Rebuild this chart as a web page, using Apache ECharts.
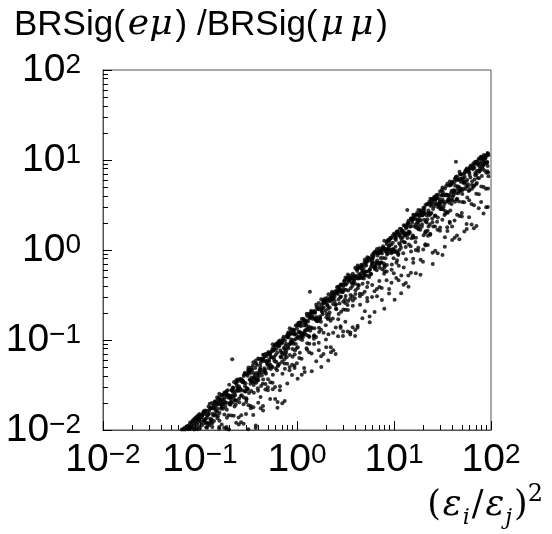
<!DOCTYPE html>
<html><head><meta charset="utf-8">
<script src="https://cdn.jsdelivr.net/npm/echarts@6/dist/echarts.min.js"></script>
<style>html,body{margin:0;padding:0;background:#fff}#c{width:552px;height:534px}</style>
</head><body><div id="c"></div>
<script>
// tick values / labels
const tickValues = [0.01, 0.1, 1, 10, 100];
const tickExponents = ['\u22122', '\u22121', '0', '1', '2'];
const minorTickValues = [0.02,0.03,0.04,0.05,0.06,0.07,0.08,0.09,0.2,0.3,0.4,0.5,0.6,0.7,0.8,0.9,2,3,4,5,6,7,8,9,20,30,40,50,60,70,80,90];

// scatter points [ (eps_i/eps_j)^2 , BRSig(e mu)/BRSig(mu mu) ]
const ptsDecadeM2 = [[.065,.0101],[.067,.0102],[.069,.0105],[.070,.0101],[.072,.0108],[.073,.0104],[.074,.0111],[.076,.0102],[.077,.0113],[.078,.0107],[.079,.0121],[.080,.0103],[.081,.0116],[.082,.0110],[.083,.0124],[.084,.0105],[.085,.0129],[.086,.0118],[.087,.0101],[.088,.0133],[.0884,.0112],[.089,.0124],[.090,.0137],[.091,.0106],[.092,.0129],[.0924,.0118],[.093,.0141],[.094,.0102],[.095,.0134],[.0954,.0123],[.096,.0146],[.097,.0111],[.098,.0139],[.0984,.0128],[.099,.0151],[.0995,.0104]];

const ptsDecadeM1 = [[.100,.0140],[.099,.0130],[.101,.0139],[.102,.0143],
[.106,.0145],[.105,.0147],[.107,.0151],[.1045,.0112],
[.112,.0157],[.111,.0128],[.113,.0165],[.1105,.0119],[.1135,.0133],
[.119,.0164],[.118,.0106],[.120,.0116],[.1175,.0136],[.1205,.0120],[.1195,.0145],
[.126,.0196],[.125,.0113],[.127,.0174],[.1245,.0164],[.1275,.0133],
[.133,.0199],[.132,.0173],[.134,.0108],[.1315,.0130],[.1345,.0152],[.1335,.0119],
[.141,.0194],[.140,.0173],[.142,.0178],[.1395,.0126],[.1425,.0149],[.1415,.0207],
[.150,.0230],[.149,.0196],[.151,.0172],[.1485,.0190],[.1515,.0135],[.1505,.0159],
[.158,.0253],[.157,.0232],[.159,.0154],[.1565,.0193],[.1595,.0221],[.1585,.0127],[.1575,.0108],[.158,.0104],
[.168,.0242],[.167,.0192],[.169,.0246],[.1665,.0186],[.1695,.0219],[.1685,.0178],[.1675,.0115],
[.178,.0251],[.177,.0218],[.179,.0261],[.1765,.0203],[.1795,.0232],[.1785,.0149],[.1775,.0106],
[.188,.0271],[.187,.0245],[.189,.0168],[.1865,.0199],[.1895,.0137],[.1885,.0252],[.1875,.0103],[.188,.0108],
[.200,.0318],[.198,.0244],[.202,.0195],[.197,.0146],[.203,.0201],[.201,.0228],[.199,.0101],
[.211,.0278],[.209,.0206],[.213,.0241],[.208,.0223],[.214,.0275],[.212,.0236],[.210,.0145],
[.224,.0342],[.222,.0237],[.226,.0256],[.221,.0292],[.227,.0182],[.225,.0219],[.223,.0144],
[.237,.0356],[.235,.0328],[.239,.0212],[.234,.0192],[.240,.0309],[.238,.0335],[.236,.0120],
[.251,.0353],[.249,.0286],[.253,.0224],[.248,.0279],[.254,.0204],[.252,.0307],[.250,.0138],[.251,.0115],
[.266,.0366],[.264,.0238],[.268,.0347],[.263,.0281],[.269,.0244],[.267,.0355],[.265,.0122],[.266,.0146],
[.282,.0398],[.279,.0345],[.285,.0336],[.278,.0275],[.286,.0414],[.283,.0229],[.281,.0193],[.282,.0117],
[.299,.0421],[.296,.0267],[.302,.0218],[.295,.0331],[.303,.0292],[.300,.0226],[.298,.0151],[.299,.0205],
[.316,.0496],[.313,.0464],[.319,.0451],[.312,.0283],[.320,.0257],[.317,.0438],[.315,.0102],[.316,.0188],
[.335,.0463],[.332,.0355],[.338,.0272],[.331,.0327],[.339,.0382],[.336,.0492],[.334,.0185],[.335,.0174],
[.355,.0567],[.352,.0434],[.358,.0317],[.351,.0521],[.359,.0259],[.356,.0375],[.354,.0147],[.355,.0179],
[.376,.0590],[.372,.0367],[.380,.0429],[.371,.0490],[.381,.0336],[.377,.0552],[.375,.0105],[.376,.0112],
[.398,.0623],[.394,.0291],[.402,.0389],[.393,.0402],[.403,.0421],[.399,.0356],[.397,.0273],[.398,.0201],
[.422,.0557],[.418,.0516],[.426,.0308],[.417,.0481],[.427,.0619],[.423,.0467],[.421,.0232],[.422,.0175],
[.447,.0687],[.443,.0326],[.451,.0583],[.442,.0436],[.452,.0620],[.448,.0363],[.446,.0185],[.447,.0165],
[.473,.0698],[.468,.0461],[.478,.0423],[.467,.0655],[.479,.0578],[.474,.0435],[.472,.0281],[.473,.0324],
[.501,.0709],[.496,.0530],[.506,.0489],[.495,.0545],[.507,.0736],[.503,.0366],[.500,.0298],[.501,.0276],
[.531,.0718],[.526,.0693],[.536,.0649],[.525,.0519],[.537,.0475],[.533,.0531],[.529,.0221],[.531,.0340],
[.562,.0899],[.556,.0502],[.568,.0825],[.555,.0779],[.569,.0761],[.564,.0410],[.560,.0334],[.562,.0284],
[.596,.0881],[.590,.0777],[.602,.0680],[.589,.0582],[.603,.0484],[.598,.0875],[.594,.0301],[.596,.0221],
[.631,.0873],[.625,.0720],[.637,.0513],[.623,.0461],[.639,.0528],[.633,.0926],[.629,.0177],[.631,.0205],
[.668,.0987],[.661,.0543],[.675,.0762],[.660,.0871],[.676,.0652],[.670,.0926],[.666,.0277],[.668,.0307],
[.708,.0958],[.701,.0575],[.715,.0981],[.699,.0923],[.717,.1039],[.710,.0691],[.705,.0198],[.708,.0421],
[.750,.0993],[.742,.0548],[.758,.0671],[.741,.0610],[.759,.0856],[.752,.0794],[.747,.0210],[.750,.0480],
[.794,.1075],[.786,.1101],[.802,.1166],[.784,.0645],[.804,.0840],[.796,.1130],[.791,.0544],[.794,.0329],
[.841,.1348],[.833,.0890],[.849,.1166],[.831,.1140],[.851,.0920],[.843,.0683],[.838,.0462],[.841,.0500],
[.891,.1180],[.882,.1016],[.900,.0650],[.880,.1308],[.902,.0796],[.893,.0942],[.888,.0409],[.891,.0530],
[.944,.1280],[.935,.1153],[.953,.0766],[.932,.0999],[.955,.1180],[.946,.0689],[.941,.0519],[.944,.0490]];

const ptsMidM1 = [[.103,.0141],[.1035,.0138],[.1025,.0122],[.109,.0128],[.1095,.0162],[.1085,.0158],[.1155,.0121],[.116,.0107],[.115,.0150],[.1225,.0182],[.123,.0152],[.122,.0149],[.1295,.0129],[.130,.0177],[.129,.0121],[.137,.0144],[.1375,.0187],[.1365,.0178],[.1455,.0145],[.146,.0208],[.145,.0163],[.154,.0220],[.1545,.0201],[.1535,.0143],[.163,.0213],[.1635,.0172],[.1625,.0209],[.173,.0172],[.1735,.0193],[.1725,.0197],[.183,.0181],[.1835,.0204],[.1825,.0261],[.194,.0229],[.1945,.0241],[.1935,.0277],[.2055,.0229],[.206,.0191],[.205,.0195],[.2175,.0202],[.218,.0297],[.217,.0270],[.2305,.0243],[.231,.0214],[.230,.0271],[.244,.0287],[.2445,.0363],[.2435,.0272],[.2585,.0289],[.259,.0369],[.258,.0273],[.274,.0357],[.2745,.0340],[.2735,.0350],[.2905,.0270],[.291,.0306],[.290,.0432],[.3075,.0420],[.308,.0401],[.307,.0286],[.3255,.0424],[.326,.0444],[.325,.0364],[.345,.0471],[.3455,.0342],[.3445,.0348],[.3655,.0408],[.366,.0385],[.365,.0340],[.387,.0360],[.3875,.0528],[.3865,.0366],[.410,.0611],[.4105,.0458],[.4095,.0433],[.4345,.0619],[.435,.0592],[.434,.0404],[.460,.0685],[.4605,.0457],[.4595,.0485],[.487,.0664],[.4875,.0574],[.4865,.0584],[.516,.0576],[.5165,.0704],[.5155,.0608],[.5465,.0745],[.547,.0508],[.546,.0644],[.579,.0789],[.5795,.0610],[.5785,.0646],[.6135,.0571],[.614,.0799],[.613,.0913],[.6495,.0846],[.650,.0967],[.649,.0886],[.688,.0938],[.6885,.0725],[.6875,.0640],[.729,.1085],[.7295,.0814],[.7285,.0723],[.772,.0718],[.7725,.0766],[.7715,.0910],[.8175,.0811],[.818,.1064],[.817,.1216],[.866,.0912],[.8665,.1235],[.8655,.0966],[.9175,.1194],[.918,.1308],[.917,.0910],[.972,.1447],[.9725,.0904],[.9715,.1025]];

const ptsDecade0 = [[1.00,.135],[.99,.081],[1.01,.106],[1.02,.083],[.985,.114],[1.005,.147],[1.015,.037],[.995,.055],
[1.06,.156],[1.05,.121],[1.07,.103],[1.045,.124],[1.075,.147],[1.065,.155],[1.055,.063],[1.07,.072],
[1.12,.171],[1.11,.110],[1.13,.100],[1.105,.113],[1.135,.156],[1.125,.119],[1.115,.062],[1.12,.041],
[1.19,.167],[1.18,.145],[1.20,.126],[1.175,.116],[1.205,.119],[1.195,.165],[1.185,.049],[1.20,.044],
[1.26,.196],[1.25,.164],[1.27,.185],[1.245,.144],[1.275,.092],[1.265,.113],[1.255,.081],[1.27,.078],
[1.33,.187],[1.32,.141],[1.34,.108],[1.315,.195],[1.345,.173],[1.325,.111],[1.335,.073],[1.34,.091],
[1.41,.203],[1.40,.138],[1.42,.207],[1.395,.210],[1.425,.135],[1.405,.184],[1.415,.071],[1.42,.045],
[1.50,.202],[1.49,.110],[1.51,.172],[1.485,.208],[1.515,.135],[1.505,.113],[1.495,.103],[1.50,.090],
[1.58,.248],[1.57,.167],[1.59,.232],[1.565,.170],[1.595,.163],[1.585,.180],[1.575,.108],[1.58,.058],
[1.68,.257],[1.67,.164],[1.69,.123],[1.665,.219],[1.695,.233],[1.685,.137],[1.675,.093],[1.68,.077],
[1.78,.284],[1.77,.130],[1.79,.218],[1.765,.159],[1.795,.247],[1.785,.213],[1.775,.066],[1.78,.050],
[1.88,.265],[1.87,.260],[1.89,.276],[1.865,.271],[1.895,.256],[1.885,.229],[1.875,.070],[1.88,.120],
[2.00,.263],[1.98,.146],[2.02,.195],[1.97,.212],[2.03,.277],[2.01,.179],[1.99,.101],[2.00,.083],
[2.11,.323],[2.09,.223],[2.13,.189],[2.08,.171],[2.14,.175],[2.12,.275],[2.10,.059],[2.11,.116],
[2.24,.294],[2.22,.164],[2.26,.274],[2.21,.292],[2.27,.329],[2.25,.310],[2.23,.083],[2.24,.073],
[2.37,.327],[2.35,.251],[2.39,.328],[2.34,.173],[2.40,.333],[2.38,.289],[2.36,.120],[2.37,.077],
[2.51,.338],[2.49,.245],[2.53,.224],[2.48,.348],[2.54,.219],[2.52,.250],[2.50,.070],[2.51,.138],
[2.66,.391],[2.64,.325],[2.68,.281],[2.63,.347],[2.69,.194],[2.67,.390],[2.65,.110],[2.66,.170],
[2.82,.407],[2.80,.298],[2.84,.304],[2.79,.345],[2.85,.206],[2.83,.414],[2.81,.142],[2.82,.136],
[2.99,.394],[2.97,.341],[3.01,.218],[2.96,.346],[3.02,.414],[3.00,.267],[2.98,.111],[2.99,.124],
[3.16,.496],[3.14,.257],[3.18,.412],[3.13,.283],[3.19,.361],[3.17,.309],[3.15,.160],[3.16,.217],
[3.35,.535],[3.33,.492],[3.37,.355],[3.32,.245],[3.38,.464],[3.36,.272],[3.34,.124],[3.35,.215],
[3.55,.480],[3.53,.288],[3.57,.317],[3.52,.492],[3.58,.375],[3.56,.485],[3.54,.115],[3.55,.121],
[3.76,.543],[3.74,.305],[3.78,.490],[3.73,.398],[3.79,.429],[3.77,.274],[3.75,.139],[3.76,.240],
[3.98,.635],[3.96,.421],[4.00,.324],[3.95,.291],[4.01,.356],[3.99,.519],[3.97,.111],[3.98,.129],
[4.22,.674],[4.19,.619],[4.25,.412],[4.18,.585],[4.26,.481],[4.23,.377],[4.21,.137],[4.22,.144],
[4.47,.632],[4.44,.326],[4.50,.510],[4.43,.485],[4.51,.542],[4.48,.496],[4.46,.306],[4.47,.246],
[4.73,.683],[4.70,.578],[4.76,.500],[4.69,.487],[4.77,.591],[4.74,.423],[4.72,.175],[4.73,.324],
[5.01,.786],[4.98,.530],[5.05,.695],[4.96,.736],[5.06,.572],[5.03,.517],[4.99,.343],[5.01,.208],
[5.31,.832],[5.28,.388],[5.35,.519],[5.26,.736],[5.36,.432],[5.33,.780],[5.29,.292],[5.31,.269],
[5.62,.812],[5.59,.594],[5.65,.612],[5.56,.502],[5.66,.779],[5.63,.763],[5.60,.182],[5.62,.157],
[5.96,.808],[5.93,.875],[6.00,.777],[5.90,.680],[6.01,.728],[5.97,.713],[5.94,.301],[5.96,.408],
[6.31,.951],[6.27,.926],[6.35,.616],[6.25,.638],[6.37,.668],[6.33,.651],[6.29,.347],[6.31,.205],
[6.68,1.028],[6.64,.597],[6.72,.926],[6.62,.707],[6.74,.871],[6.70,.762],[6.66,.368],[6.68,.307],
[7.08,1.045],[7.04,.981],[7.12,.633],[7.02,.691],[7.14,.712],[7.10,.923],[7.06,.453],[7.08,.389],
[7.50,.993],[7.46,.979],[7.54,1.040],[7.44,.733],[7.56,.610],[7.52,.917],[7.48,.379],[7.50,.278],
[7.94,1.271],[7.90,1.036],[7.98,.645],[7.88,.710],[8.00,.580],[7.96,.671],[7.92,.544],[7.94,.222],
[8.41,1.166],[8.37,1.235],[8.45,.683],[8.35,1.028],[8.47,.890],[8.43,.959],[8.39,.462],[8.41,.576],
[8.91,1.290],[8.87,1.235],[8.95,1.016],[8.85,1.089],[8.97,1.12],[8.93,1.308],[8.89,.329],[8.91,.369],
[9.44,1.368],[9.40,.921],[9.48,.998],[9.38,1.153],[9.50,.689],[9.46,.95],[9.42,.434],[9.44,.604]];

const ptsMid0 = [[1.03,.154],[1.035,.109],[1.025,.147],[1.09,.121],[1.095,.142],[1.085,.155],[1.155,.114],[1.16,.172],[1.15,.107],[1.225,.129],[1.23,.152],[1.22,.155],[1.295,.129],[1.30,.161],[1.29,.133],[1.37,.127],[1.375,.195],[1.365,.178],[1.455,.181],[1.46,.199],[1.45,.172],[1.54,.201],[1.545,.172],[1.535,.210],[1.63,.223],[1.635,.172],[1.625,.162],[1.73,.172],[1.735,.176],[1.725,.182],[1.83,.227],[1.835,.193],[1.825,.204],[1.94,.277],[1.945,.289],[1.935,.265],[2.055,.293],[2.06,.242],[2.05,.247],[2.175,.229],[2.18,.270],[2.17,.202],[2.305,.286],[2.31,.300],[2.30,.343],[2.44,.303],[2.445,.272],[2.435,.318],[2.585,.385],[2.59,.337],[2.58,.353],[2.74,.374],[2.745,.255],[2.735,.366],[2.905,.414],[2.91,.360],[2.90,.342],[3.075,.362],[3.08,.458],[3.07,.447],[3.255,.424],[3.26,.485],[3.25,.472],[3.45,.449],[3.455,.471],[3.445,.514],[3.655,.431],[3.66,.476],[3.65,.522],[3.87,.504],[3.875,.456],[3.865,.464],[4.10,.509],[4.105,.484],[4.095,.611],[4.345,.404],[4.35,.539],[4.34,.646],[4.60,.656],[4.605,.628],[4.595,.685],[4.87,.544],[4.875,.483],[4.865,.634],[5.16,.576],[5.165,.672],[5.155,.736],[5.465,.779],[5.47,.813],[5.46,.576],[5.79,.646],[5.795,.538],[5.785,.545],[6.135,.913],[6.14,.875],[6.13,.837],[6.495,.967],[6.50,.725],[6.49,.644],[6.88,.725],[6.885,.938],[6.875,.920],[7.29,.814],[7.295,.949],[7.285,.723],[7.72,1.053],[7.725,1.101],[7.715,.814],[8.175,.811],[8.18,1.014],[8.17,.963],[8.66,.912],[8.665,1.020],[8.655,1.288],[9.175,1.365],[9.18,1.33],[9.17,.967],[9.72,1.025],[9.725,1.447],[9.715,1.206]];

const ptsDecade1 = [[10.0,1.52],[9.9,.81],[10.1,.98],[9.85,1.01],[10.2,1.47],[10.05,.95],[9.95,.55],[10.15,.28],
[10.6,1.58],[10.5,1.38],[10.7,.94],[10.45,1.29],[10.75,.77],[10.65,.97],[10.55,.49],[10.6,.72],
[11.2,1.50],[11.1,.91],[11.3,1.19],[11.05,.88],[11.35,1.00],[11.25,1.46],[11.15,.46],[11.2,.67],
[11.9,1.71],[11.8,1.06],[12.0,1.26],[11.75,1.36],[12.05,1.65],[11.95,1.55],[11.85,.33],[11.9,.52],
[12.6,1.88],[12.5,1.54],[12.7,1.58],[12.45,.92],[12.75,1.50],[12.65,1.23],[12.55,.41],[12.6,.64],
[13.3,1.75],[13.2,1.08],[13.4,1.52],[13.15,1.47],[13.45,1.84],[13.35,1.79],[13.25,.43],[13.3,.79],
[14.1,2.12],[14.0,1.49],[14.2,1.96],[13.95,2.01],[14.25,1.15],[14.15,1.61],[14.05,.52],[14.1,.39],
[15.0,2.25],[14.9,2.21],[15.1,1.35],[14.85,1.10],[15.15,2.17],[15.05,1.84],[14.95,.56],[15.0,.96],
[15.8,2.47],[15.7,1.41],[15.9,2.19],[15.65,1.45],[15.95,2.32],[15.85,1.37],[15.75,.80],[15.8,.72],
[16.8,2.21],[16.7,1.92],[16.9,1.78],[16.65,1.23],[16.95,2.46],[16.85,1.37],[16.75,1.00],[16.8,.55],
[17.8,2.78],[17.7,2.03],[17.9,1.74],[17.65,2.18],[17.95,1.88],[17.85,1.70],[17.75,.98],[17.8,1.06],
[18.8,2.59],[18.7,2.60],[18.9,2.76],[18.65,1.68],[18.95,2.14],[18.85,2.71],[18.75,.53],[18.8,.78],
[20.0,2.75],[19.8,2.44],[20.2,1.46],[19.7,2.61],[20.3,2.77],[20.1,2.94],[19.9,.74],[20.0,1.01],
[21.1,3.17],[20.9,1.54],[21.3,2.06],[20.8,2.58],[21.4,1.58],[21.2,1.62],[21.0,1.16],[21.1,1.12],
[22.4,3.21],[22.2,1.64],[22.6,2.74],[22.1,2.19],[22.7,1.82],[22.5,2.56],[22.3,1.14],[22.4,1.44],
[23.7,3.70],[23.5,3.28],[23.9,3.20],[23.4,1.92],[24.0,3.09],[23.8,2.51],[23.6,1.52],[23.7,1.48],
[25.1,3.30],[24.9,2.04],[25.3,2.86],[24.8,2.24],[25.4,1.83],[25.2,3.68],[25.0,.93],[25.1,.70],
[26.6,3.50],[26.4,3.90],[26.8,3.25],[26.3,2.38],[26.9,3.68],[26.7,2.42],[26.5,1.82],[26.6,.98],
[28.2,3.81],[27.9,3.22],[28.5,2.98],[27.8,2.06],[28.6,4.14],[28.3,2.29],[28.1,1.68],[28.2,.92],
[29.9,4.49],[29.6,3.41],[30.2,2.92],[29.5,3.65],[30.3,3.16],[30.0,2.86],[29.8,1.64],[29.9,1.78],
[31.6,4.96],[31.3,4.12],[31.9,4.38],[31.2,4.64],[32.0,2.83],[31.7,3.61],[31.5,2.17],[31.6,.88],
[33.5,4.83],[33.2,3.27],[33.8,4.09],[33.1,2.45],[33.9,2.52],[33.6,2.72],[33.4,1.09],[33.5,1.39],
[35.5,5.45],[35.2,3.46],[35.8,2.59],[35.1,4.05],[35.9,3.55],[35.6,2.65],[35.4,1.79],[35.5,1.63],
[37.6,5.78],[37.2,5.21],[38.0,5.30],[37.1,3.36],[38.1,2.74],[37.7,3.98],[37.5,2.06],[37.6,2.00],
[39.8,5.74],[39.4,4.54],[40.2,3.56],[39.3,3.24],[40.3,3.89],[39.9,5.52],[39.7,1.83],[39.8,1.29],
[42.2,5.70],[41.8,4.46],[42.6,3.43],[41.7,4.60],[42.7,5.16],[42.3,6.19],[42.1,2.13],[42.2,1.37],
[44.7,6.05],[44.3,6.56],[45.1,4.73],[44.2,3.63],[45.2,5.10],[44.8,3.70],[44.6,1.45],[44.7,2.46],
[47.3,7.42],[46.8,3.45],[47.8,6.94],[46.7,5.00],[47.9,4.61],[47.4,4.48],[47.2,1.32],[47.3,2.39],
[50.1,6.91],[49.6,6.11],[50.6,4.18],[49.5,6.24],[50.7,3.41],[50.3,4.57],[50.0,2.57],[50.1,2.36],
[53.1,7.02],[52.6,5.66],[53.6,6.48],[52.5,5.52],[53.7,7.29],[53.3,5.80],[52.9,3.40],[53.1,1.61],
[56.2,8.07],[55.6,7.72],[56.8,5.99],[55.5,5.13],[56.9,3.83],[56.4,7.58],[56.0,1.94],[56.2,1.71],
[59.6,8.05],[59.0,7.72],[60.2,6.81],[58.9,4.52],[60.3,4.65],[59.8,7.27],[59.4,2.31],[59.6,3.56],
[63.1,8.15],[62.5,8.18],[63.7,4.79],[62.3,8.67],[63.9,5.76],[63.3,5.27],[62.9,3.24],[63.1,1.92],
[66.8,8.83],[66.1,5.06],[67.5,8.15],[66.0,9.18],[67.6,6.09],[67.0,5.22],[66.6,1.74],[66.8,3.15],
[70.8,9.56],[70.1,5.37],[71.5,5.55],[69.9,9.18],[71.7,7.55],[71.0,7.01],[70.5,4.23],[70.8,1.85],
[75.0,10.36],[74.2,9.15],[75.8,7.42],[74.1,7.60],[75.9,8.57],[75.2,6.26],[74.7,2.91],[75.0,4.17],
[79.4,10.73],[78.6,10.90],[80.2,10.6],[78.4,9.07],[80.4,6.63],[79.6,9.68],[79.1,3.41],[79.4,5.08],
[84.1,11.36],[83.3,8.96],[84.9,9.61],[83.1,10.25],[85.1,7.67],[84.3,8.80],[83.8,2.54],[84.1,5.02],
[89.1,11.16],[88.2,11.18],[90.0,9.19],[88.0,10.51],[90.2,9.4],[89.3,7.2],[88.8,4.79],[89.1,2.98],
[93.2,11.75],[92.5,8.59],[93.8,11.26],[92.2,11.93],[94.0,6.59],[93.5,7.26],[92.8,3.0],[93.2,4.83]];

const ptsMid1 = [[10.3,1.47],[10.35,1.09],[10.25,1.34],[10.9,1.62],[10.95,1.55],[10.85,1.59],[11.55,1.43],[11.6,1.14],[11.5,1.72],[12.25,1.37],[12.3,1.60],[12.2,1.63],[12.95,1.85],[13.0,1.21],[12.9,1.45],[13.7,1.53],[13.75,1.36],[13.65,1.95],[14.55,1.54],[14.6,1.81],[14.5,1.58],[15.4,2.20],[15.45,2.14],[15.35,2.01],[16.3,2.43],[16.35,1.82],[16.25,2.38],[17.3,2.47],[17.35,2.04],[17.25,2.57],[18.3,2.38],[18.35,2.16],[18.25,2.42],[19.4,2.41],[19.45,1.93],[19.35,1.81],[20.55,2.55],[20.6,2.93],[20.5,2.17],[21.75,2.02],[21.8,3.24],[21.7,2.43],[23.05,3.43],[23.1,2.43],[23.0,2.57],[24.4,3.63],[24.45,3.48],[24.35,2.57],[25.85,3.85],[25.9,3.05],[25.8,3.69],[27.4,3.91],[27.45,3.74],[27.35,4.08],[29.05,3.24],[29.1,3.30],[29.0,3.06],[30.75,2.86],[30.8,3.43],[30.7,4.01],[32.55,3.43],[32.6,4.04],[32.5,3.03],[34.5,5.14],[34.55,4.07],[34.45,4.15],[36.55,4.08],[36.6,3.63],[36.5,3.70],[38.7,5.28],[38.75,4.32],[38.65,3.60],[41.0,4.07],[41.05,4.33],[40.95,4.58],[43.45,6.19],[43.5,4.31],[43.4,6.46],[46.0,6.28],[46.05,4.28],[45.95,5.99],[48.7,6.95],[48.75,5.74],[48.65,4.83],[51.6,6.28],[51.65,4.79],[51.55,5.69],[54.65,4.75],[54.7,5.70],[54.6,7.60],[57.9,7.39],[57.95,5.04],[57.85,5.38],[61.35,8.54],[61.4,8.19],[61.3,6.41],[64.95,8.29],[65.0,7.91],[64.9,8.40],[68.8,9.58],[68.85,7.19],[68.75,6.79],[72.9,6.34],[72.95,8.88],[72.85,9.72],[77.2,8.06],[77.25,7.62],[77.15,10.30],[81.75,8.06],[81.8,8.53],[81.7,10.43],[86.6,10.42],[86.65,9.42],[86.5,10.7],[91.75,9.5],[91.8,11.5],[91.7,7.5]];

const ptsOutliers = [[0.215,0.061],[1.36,0.344],[13.7,2.78],[43.5,9.57]];

const allPoints = ptsDecadeM2.concat(ptsDecadeM1, ptsMidM1, ptsDecade0, ptsMid0, ptsDecade1, ptsMid1, ptsOutliers);

const chart = echarts.init(document.getElementById('c'), null, {renderer: 'canvas'});

const labelRich = {
  b: {fontSize: 39, fontFamily: 'Liberation Sans', color: '#000', lineHeight: 38},
  s: {fontSize: 28, fontFamily: 'Liberation Sans', color: '#000', lineHeight: 18, verticalAlign: 'top'}
};
function fmt(v) {
  let idx = 0, best = Infinity;
  tickValues.forEach((t, i) => { const d = Math.abs(Math.log10(t) - Math.log10(v)); if (d < best) { best = d; idx = i; } });
  return '{b|10}{s|' + tickExponents[idx] + '}';
}

const axisCommon = {type: 'log', logBase: 10, min: 0.01, max: 100, splitLine: {show: false}};

chart.setOption({
  animation: false,
  backgroundColor: '#fff',
  grid: {left: 103, right: 61, top: 70, bottom: 104, show: true, borderColor: '#555', borderWidth: 1, backgroundColor: 'transparent'},
  title: [
    {text: '{n|BRSig(}{m|e\u03bc}{n|) /BRSig(}{w|\u03bc}{w|\u03bc}{n|)}', left: 9, top: 2,
     textStyle: {fontWeight: 'normal', rich: {
       n: {fontSize: 35, fontFamily: 'Liberation Sans', fontWeight: 'normal', color: '#000'},
       m: {fontSize: 36, fontFamily: 'DejaVu Serif', fontStyle: 'italic', fontWeight: 'normal', color: '#000', padding: [0, 3, 0, 3]},
       w: {fontSize: 36, fontFamily: 'DejaVu Serif', fontStyle: 'italic', fontWeight: 'normal', color: '#000', padding: [0, 3, 0, 3]}
     }}},
    {text: '{p|(}{e|\u03b5}{sub|i}{p|/}{e|\u03b5}{sub|j}{p|)}{sup|2}', right: 4, top: 478,
     textStyle: {fontWeight: 'normal', rich: {
       p: {fontSize: 35, fontFamily: 'DejaVu Serif', fontWeight: 'normal', color: '#000', lineHeight: 46},
       e: {fontSize: 35, fontFamily: 'DejaVu Serif', fontStyle: 'italic', fontWeight: 'normal', color: '#000', lineHeight: 46, padding: [0, 1, 0, 2]},
       sub: {fontSize: 22, fontFamily: 'DejaVu Serif', fontStyle: 'italic', fontWeight: 'normal', color: '#000', lineHeight: 22, verticalAlign: 'bottom', padding: [0, 2, 0, 0]},
       sup: {fontSize: 24, fontFamily: 'DejaVu Serif', fontWeight: 'normal', color: '#000', lineHeight: 22, verticalAlign: 'top'}
     }}}
  ],
  xAxis: [
    Object.assign({}, axisCommon, {
      position: 'bottom',
      axisLine: {show: true, lineStyle: {color: '#555', width: 1}},
      axisTick: {show: true, inside: true, length: 9, customValues: tickValues, lineStyle: {color: '#000', width: 1}},
      axisLabel: {show: true, customValues: tickValues, margin: 11, formatter: fmt, rich: labelRich}
    }),
    Object.assign({}, axisCommon, {
      position: 'bottom',
      axisLine: {show: false},
      axisTick: {show: true, inside: true, length: 5, customValues: minorTickValues, lineStyle: {color: '#000', width: 1}},
      axisLabel: {show: false}
    })
  ],
  yAxis: [
    Object.assign({}, axisCommon, {
      position: 'left',
      axisLine: {show: true, lineStyle: {color: '#555', width: 1}},
      axisTick: {show: true, inside: true, length: 9, customValues: tickValues, lineStyle: {color: '#000', width: 1}},
      axisLabel: {show: true, customValues: tickValues, margin: 22, formatter: fmt, rich: labelRich}
    }),
    Object.assign({}, axisCommon, {
      position: 'left',
      axisLine: {show: false},
      axisTick: {show: true, inside: true, length: 5, customValues: minorTickValues, lineStyle: {color: '#000', width: 1}},
      axisLabel: {show: false}
    })
  ],
  series: [{
    type: 'scatter',
    xAxisIndex: 0, yAxisIndex: 0,
    data: allPoints,
    symbol: 'circle',
    symbolSize: 4,
    itemStyle: {color: '#000'},
    silent: true,
    clip: true
  }]
});
</script>
</body></html>
